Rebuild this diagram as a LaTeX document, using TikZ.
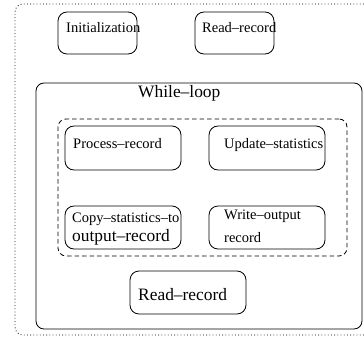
\documentclass[tikz,border=0pt]{standalone}
\usepackage{fontspec}
\setmainfont{Liberation Serif}
\usetikzlibrary{shapes.geometric, arrows}

\newcommand{\smalltxt}{\fontsize{14.5}{17}\selectfont}
\newcommand{\bigtxt}{\fontsize{17.4}{20}\selectfont}

\begin{document}
\begin{tikzpicture}[x=1pt, y=-1pt]
\tikzset{
  blk/.style={draw, rounded corners=9pt, line width=0.8pt, inner sep=0pt},
  txt/.style={anchor=base west, inner sep=0pt},
}
      \clip (0,0) rectangle (364,337);
      % outer program frame
      \node[draw, dash pattern=on 0.8pt off 2.4pt, rounded corners=8pt, line width=0.8pt, minimum width=360pt, minimum height=331pt, inner sep=0pt](prog) at (195,169.5) {};
           \node[blk, minimum width=79pt, minimum height=42pt](init) at (97.5,33) {};
           \node[txt](initT) at (66,33) {\smalltxt Initialization};
           \node[blk, minimum width=79pt, minimum height=42pt](read1) at (234.5,33) {};
           \node[txt](read1T) at (202,33) {\smalltxt Read--record};
      % loop body
      \node[blk, rounded corners=8pt, minimum width=326pt, minimum height=246pt](loop) at (199,206) {};
      \node[txt](loopT) at (138,97) {\bigtxt While--loop};
      \node[draw, dash pattern=on 4.5pt off 3pt, rounded corners=8pt, line width=0.8pt, minimum width=289pt, minimum height=137pt, inner sep=0pt](body) at (202.5,187.5) {};
           \node[blk, minimum width=116pt, minimum height=44pt](proc) at (123,148) {};
           \node[txt](procT) at (73,148) {\smalltxt Process--record};
           \node[blk, minimum width=116pt, minimum height=44pt](upd) at (267,148) {};
           \node[txt](updT) at (224,148) {\smalltxt Update--statistics};
           \node[blk, minimum width=116pt, minimum height=43pt](copy) at (123,227.5) {};
           \node[txt](copyT) at (72,222) {\smalltxt Copy--statistics--to};
           \node[txt](copyT2) at (72,241) {\bigtxt output--record};
           \node[blk, minimum width=116pt, minimum height=43pt](wrt) at (267,227.5) {};
           \node[txt](wrtT) at (224,219) {\smalltxt Write--output};
           \node[txt](wrtT2) at (224,242) {\smalltxt record};
      \node[blk, minimum width=116pt, minimum height=43pt](read2) at (188,292.5) {};
      \node[txt](read2T) at (138,300) {\bigtxt Read--record};
\end{tikzpicture}
\end{document}
